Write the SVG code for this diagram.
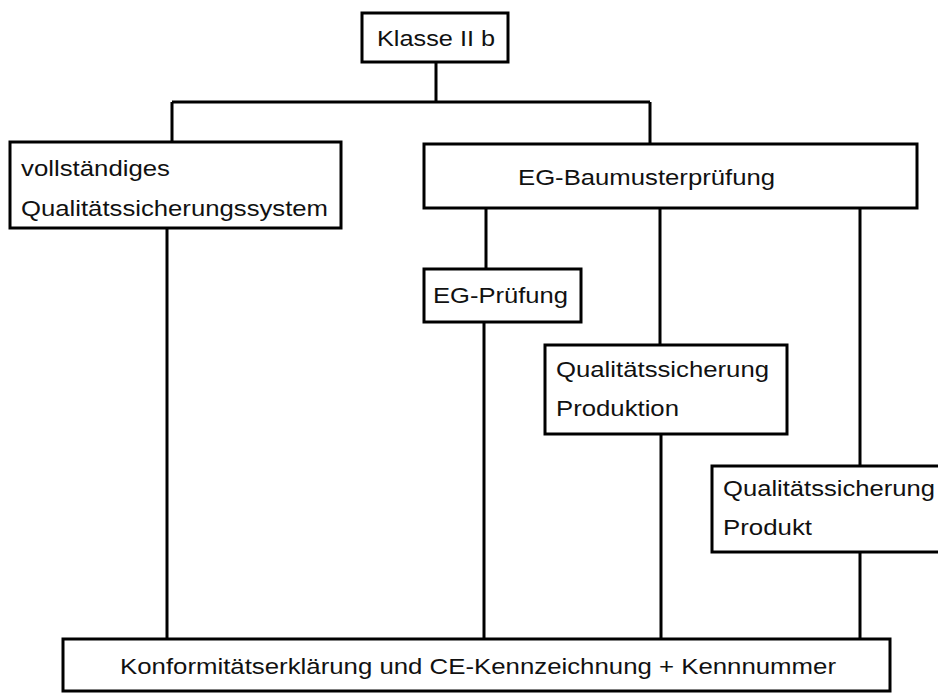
<svg xmlns="http://www.w3.org/2000/svg" width="938" height="693" viewBox="0 0 938 693">
<style>
.box{fill:#fff;stroke:#000;stroke-width:3}
.ln{fill:none;stroke:#000;stroke-width:3}
text{font-family:"Liberation Sans",Arial,sans-serif;font-size:22px;fill:#111}
</style>
<rect width="938" height="693" fill="#fff"/>
<g id="connectors">
<path class="ln" d="M436 62V102M172 102H650M172 102V142M650 102V144"/>
<path class="ln" d="M167 228V639"/>
<path class="ln" d="M486 208V269M484 322V639"/>
<path class="ln" d="M660 208V345M661 434V639"/>
<path class="ln" d="M860 208V466M860 552V639"/>
</g>
<g id="klasse">
<rect class="box" x="362" y="13" width="146" height="49"/>
<text x="377" y="46" textLength="118" lengthAdjust="spacingAndGlyphs">Klasse II b</text>
</g>
<g id="vollstaendig">
<rect class="box" x="10" y="142" width="331" height="86"/>
<text x="21" y="176" textLength="149" lengthAdjust="spacingAndGlyphs">vollständiges</text>
<text x="21" y="216" textLength="307" lengthAdjust="spacingAndGlyphs">Qualitätssicherungssystem</text>
</g>
<g id="baumuster">
<rect class="box" x="424" y="144" width="493" height="64"/>
<text x="518" y="185" textLength="257" lengthAdjust="spacingAndGlyphs">EG-Baumusterprüfung</text>
</g>
<g id="pruefung">
<rect class="box" x="424" y="269" width="157" height="53"/>
<text x="433" y="303" textLength="135" lengthAdjust="spacingAndGlyphs">EG-Prüfung</text>
</g>
<g id="produktion">
<rect class="box" x="545" y="345" width="242" height="89"/>
<text x="556" y="377" textLength="213" lengthAdjust="spacingAndGlyphs">Qualitätssicherung</text>
<text x="556" y="416" textLength="123" lengthAdjust="spacingAndGlyphs">Produktion</text>
</g>
<g id="produkt">
<rect class="box" x="712" y="466" width="240" height="86"/>
<text x="723" y="496" textLength="212" lengthAdjust="spacingAndGlyphs">Qualitätssicherung</text>
<text x="723" y="535" textLength="89" lengthAdjust="spacingAndGlyphs">Produkt</text>
</g>
<g id="konformitaet">
<rect class="box" x="63" y="639" width="827" height="52"/>
<text x="120" y="674" textLength="716" lengthAdjust="spacingAndGlyphs">Konformitätserklärung und CE-Kennzeichnung + Kennnummer</text>
</g>
</svg>
